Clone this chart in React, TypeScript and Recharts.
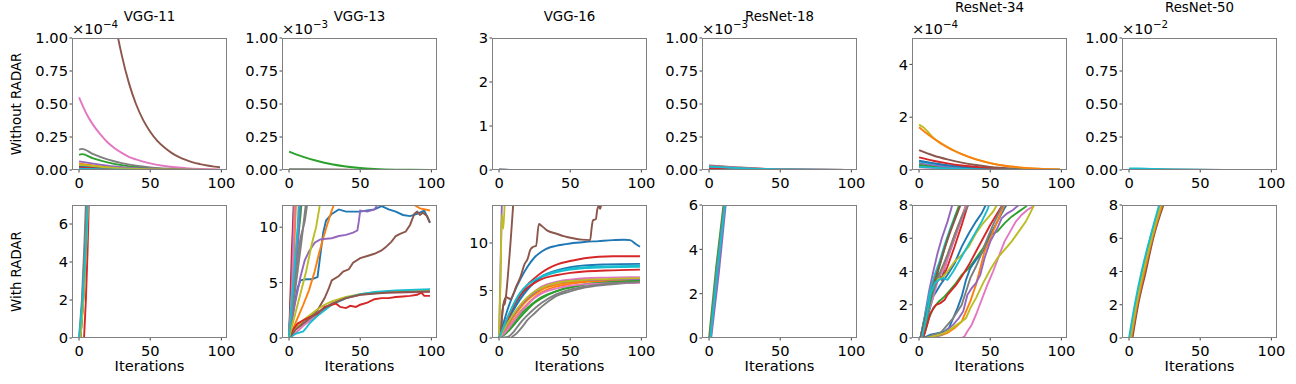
import React from 'react';
import { LineChart, Line, XAxis, YAxis } from 'recharts';

type Pt = [number, number];
type Series = [number, Pt[]]; // [colour index, points (iteration, value)]

const COLORS = ['#1f77b4', '#ff7f0e', '#2ca02c', '#d62728', '#9467bd', '#8c564b', '#e377c2', '#7f7f7f', '#bcbd22', '#17becf'];
const MODELS = ['VGG-11', 'VGG-13', 'VGG-16', 'ResNet-18', 'ResNet-34', 'ResNet-50'];
const ROW_LABELS = ['Without RADAR', 'With RADAR'];
const X_LABEL = 'Iterations';
const X_TICKS = [0, 50, 100];
const TOP_EXPONENTS = ['−4', '−3', '', '−3', '−4', '−2'];
const TOP_YMAX = [1, 1, 3, 1, 5, 1];
const TOP_YTICKS = [
  [0, 0.25, 0.5, 0.75, 1],
  [0, 0.25, 0.5, 0.75, 1],
  [0, 1, 2, 3],
  [0, 0.25, 0.5, 0.75, 1],
  [0, 2, 4],
  [0, 0.25, 0.5, 0.75, 1],
];
const BOTTOM_YMAX = [7, 12, 14, 6, 8, 8];
const BOTTOM_YTICKS = [
  [0, 2, 4, 6],
  [0, 5, 10],
  [0, 5, 10],
  [0, 2, 4, 6],
  [0, 2, 4, 6, 8],
  [0, 2, 4, 6, 8],
];

// ---------- Without RADAR (values in units of the axis offset) ----------
const VGG11_WITHOUT: Series[] = [
  [0, [[0, 0.03], [10, 0.02], [25, 0.01], [50, 0.003], [99, 0]]],
  [1, [[0, 0.05], [10, 0.035], [25, 0.018], [50, 0.006], [99, 0.001]]],
  [2, [[0, 0.115], [2, 0.12], [10, 0.088], [20, 0.058], [30, 0.037], [40, 0.023], [50, 0.014], [70, 0.005], [99, 0.001]]],
  [3, [[0, 0.02], [15, 0.01], [40, 0.003], [99, 0]]],
  [4, [[0, 0.065], [10, 0.048], [25, 0.026], [50, 0.008], [99, 0.001]]],
  [5, [[0, 4.5], [5, 3.4], [10, 2.6], [15, 2.0], [20, 1.5], [25, 1.14], [30, 0.87], [35, 0.66], [40, 0.5], [45, 0.38], [50, 0.29], [55, 0.22], [60, 0.17], [65, 0.13], [70, 0.1], [75, 0.077], [80, 0.058], [85, 0.045], [90, 0.034], [95, 0.026], [99, 0.021]]],
  [6, [[0, 0.55], [5, 0.43], [10, 0.34], [15, 0.27], [20, 0.21], [25, 0.165], [30, 0.13], [35, 0.1], [40, 0.08], [45, 0.063], [50, 0.05], [60, 0.03], [75, 0.014], [99, 0.004]]],
  [7, [[0, 0.155], [2, 0.16], [10, 0.12], [20, 0.08], [30, 0.052], [40, 0.033], [50, 0.02], [70, 0.007], [99, 0.001]]],
  [8, [[0, 0.04], [10, 0.03], [25, 0.015], [50, 0.005], [99, 0]]],
  [9, [[0, 0.01], [20, 0.005], [50, 0.001], [99, 0]]],
];
const VGG13_WITHOUT: Series[] = [
  [0, [[0, 0.003], [50, 0.001], [99, 0]]],
  [1, [[0, 0.003], [50, 0.001], [99, 0]]],
  [2, [[0, 0.14], [10, 0.1], [20, 0.068], [30, 0.044], [40, 0.027], [50, 0.015], [60, 0.008], [75, 0.003], [99, 0.001]]],
  [3, [[0, 0.003], [50, 0.001], [99, 0]]],
  [4, [[0, 0.003], [50, 0.001], [99, 0]]],
  [5, [[0, 0.003], [50, 0.001], [99, 0]]],
  [6, [[0, 0.003], [50, 0.001], [99, 0]]],
  [7, [[0, 0.003], [50, 0.001], [99, 0]]],
  [8, [[0, 0.003], [50, 0.001], [99, 0]]],
  [9, [[0, 0.002], [50, 0.001], [99, 0]]],
];
const VGG16_WITHOUT: Series[] = [
  [0, [[0, 0.004], [99, 0.002]]],
  [3, [[0, 0.004], [99, 0.002]]],
  [5, [[0, 0.004], [99, 0.002]]],
  [9, [[0, 0.004], [99, 0.002]]],
];
const RESNET18_WITHOUT: Series[] = [
  [0, [[0, 0.02], [20, 0.011], [50, 0.003], [99, 0]]],
  [3, [[0, 0.015], [20, 0.008], [50, 0.002], [99, 0]]],
  [5, [[0, 0.035], [20, 0.02], [50, 0.005], [99, 0.001]]],
  [6, [[0, 0.03], [20, 0.017], [50, 0.004], [99, 0.001]]],
  [7, [[0, 0.028], [20, 0.015], [50, 0.004], [99, 0]]],
  [9, [[0, 0.025], [25, 0.012], [50, 0.004], [99, 0]]],
];
const RESNET34_WITHOUT: Series[] = [
  [6, [[0, 0.1], [20, 0.05], [50, 0.01], [99, 0]]],
  [7, [[0, 0.15], [20, 0.07], [50, 0.02], [99, 0]]],
  [2, [[0, 0.2], [15, 0.12], [30, 0.06], [60, 0.015], [99, 0]]],
  [4, [[0, 0.26], [15, 0.15], [30, 0.08], [60, 0.02], [99, 0]]],
  [9, [[0, 0.32], [10, 0.24], [25, 0.14], [50, 0.045], [99, 0.003]]],
  [0, [[0, 0.35], [10, 0.26], [20, 0.18], [35, 0.1], [50, 0.05], [99, 0.003]]],
  [3, [[0, 0.48], [10, 0.35], [20, 0.25], [30, 0.17], [50, 0.08], [70, 0.03], [99, 0.005]]],
  [5, [[0, 0.75], [10, 0.55], [20, 0.4], [30, 0.28], [40, 0.19], [50, 0.12], [70, 0.05], [99, 0.01]]],
  [8, [[0, 1.72], [3, 1.62], [10, 1.22], [20, 0.87], [30, 0.6], [50, 0.26], [70, 0.1], [99, 0.02]]],
  [1, [[0, 1.62], [5, 1.4], [10, 1.2], [15, 1.02], [20, 0.86], [25, 0.72], [30, 0.6], [40, 0.4], [50, 0.26], [60, 0.16], [70, 0.1], [80, 0.06], [90, 0.035], [99, 0.02]]],
  [9, [[0, 0.12], [20, 0.06], [50, 0.015], [99, 0]]],
];
const RESNET50_WITHOUT: Series[] = [
  [0, [[0, 0.005], [30, 0.002], [99, 0]]],
  [5, [[0, 0.006], [30, 0.002], [99, 0]]],
  [9, [[0, 0.012], [12, 0.01], [30, 0.004], [60, 0.001], [99, 0]]],
];

// ---------- With RADAR ----------
const VGG11_WITH: Series[] = [
  [0, [[0.5, 0], [2.5, 2], [4.5, 4.8], [6, 7.5]]],
  [1, [[1, 0], [3, 2], [5, 4.8], [6.5, 7.5]]],
  [2, [[1, 0], [3, 2.1], [4.8, 5], [6, 7.5]]],
  [3, [[3.5, 0], [4.8, 2], [6, 4.6], [7, 7.5]]],
  [4, [[0.5, 0], [2.3, 2], [4.2, 5], [5.5, 7.5]]],
  [5, [[1, 0], [3, 2.2], [4.8, 5], [6, 7.5]]],
  [6, [[0.5, 0], [2.8, 2], [5, 5], [6.5, 7.5]]],
  [7, [[0, 0], [2, 2], [3.8, 5], [5, 7.5]]],
  [8, [[1, 0], [3, 2], [5.2, 5], [6.5, 7.5]]],
  [9, [[0, 0], [2.5, 2], [4.8, 4.8], [6.5, 7.5]]],
];
const VGG13_WITH: Series[] = [
  [0, [[0, 0], [3, 2.5], [6, 4.5], [8, 5.2], [12, 5.3], [16, 5.3], [20, 5.5], [22, 7.5], [24, 9.5], [26, 10.6], [30, 11.2], [35, 11.6], [40, 11.4], [50, 11.4], [55, 11.5], [60, 11.6], [65, 11.9], [70, 11.6], [75, 11.4], [80, 11.1], [85, 11.0], [90, 11.2], [95, 11.5], [99, 10.4]]],
  [1, [[0, 0], [5, 1.5], [10, 3], [14, 4.3], [18, 6], [21, 7.6], [24, 9], [27, 10.3], [30, 11.5], [32, 12.2], [50, 12.5], [80, 12.4], [88, 12], [92, 11.7], [99, 11.5]]],
  [2, [[0, 0], [2, 6], [3.5, 12.5]]],
  [3, [[0, 0], [2, 8], [3.5, 12.5]]],
  [4, [[0, 0], [4, 3], [8, 5.5], [11, 7], [14, 7.8], [18, 8.6], [22, 8.9], [30, 9.0], [35, 9.2], [40, 9.3], [45, 9.5], [48, 9.7], [49, 10.5], [50, 11.5], [55, 11.4], [60, 11.6], [63, 12.2]]],
  [5, [[0, 0], [5, 1], [10, 1.5], [15, 2], [20, 2.5], [25, 3.6], [28, 4.5], [30, 5.2], [35, 5.6], [38, 6], [42, 6.2], [45, 6.8], [50, 7.2], [55, 7.4], [60, 7.6], [65, 7.9], [68, 8.2], [72, 8.7], [75, 9.2], [78, 9.4], [82, 9.6], [85, 10.2], [88, 11.2], [90, 11.4], [92, 11.1], [94, 11.3], [97, 11], [99, 10.4]]],
  [6, [[0, 0], [5, 0.5], [10, 1.1], [15, 1.6], [20, 2.1], [25, 2.6], [30, 3.0], [40, 3.6], [50, 3.9], [60, 4.05], [75, 4.1], [99, 4.15]]],
  [7, [[0, 0], [3, 3], [6, 6], [9, 9], [12, 12.3]]],
  [8, [[0, 0], [5, 1], [10, 1.6], [15, 2.1], [20, 2.6], [25, 3.0], [30, 3.3], [40, 3.7], [50, 3.95], [60, 4.1], [75, 4.2], [99, 4.25]]],
  [9, [[0, 0], [5, 0.4], [10, 0.6], [12, 0.9], [15, 1.4], [20, 2.0], [25, 2.5], [30, 3.0], [40, 3.6], [50, 3.95], [60, 4.15], [75, 4.3], [99, 4.4]]],
  [0, [[0, 0], [2, 5], [4, 12.5]]],
  [1, [[0, 0], [3, 6], [5, 12.5]]],
  [2, [[0, 0], [4, 6], [8, 11], [9, 12.5]]],
  [3, [[0, 0], [3, 0.8], [6, 1.3], [10, 1.6], [13, 1.8], [17, 2.0], [20, 2.2], [25, 2.8], [30, 3.0], [33, 3.1], [36, 2.8], [40, 2.7], [43, 2.9], [47, 2.8], [50, 3.0], [55, 3.2], [60, 3.5], [65, 3.6], [70, 3.6], [75, 3.7], [80, 3.75], [85, 3.8], [90, 3.9], [93, 4.1], [95, 3.8], [99, 3.8]]],
  [4, [[0, 0], [3, 4], [6, 8], [8, 12.5]]],
  [5, [[0, 0], [5, 0.8], [10, 1.3], [20, 2.3], [30, 3.1], [40, 3.6], [50, 3.9], [70, 4.1], [99, 4.2]]],
  [6, [[0, 0], [2, 4], [4, 12.5]]],
  [7, [[0, 0], [4, 5], [8, 9], [11, 10.5], [13, 12.3]]],
  [8, [[0, 0], [4, 2], [8, 4], [12, 6], [16, 8.5], [19, 10], [21, 11.5], [22, 12.3]]],
  [9, [[0, 0], [3, 5], [6, 10], [7, 12.5]]],
];
const VGG16_WITH: Series[] = [
  [0, [[0, 0], [3, 1.5], [6, 3], [10, 4.6], [15, 6.2], [20, 7.5], [25, 8.5], [30, 9.1], [35, 9.5], [40, 9.7], [50, 9.95], [60, 10.1], [70, 10.2], [80, 10.3], [88, 10.35], [92, 10.3], [96, 9.9], [99, 9.6]]],
  [1, [[0, 0], [5, 0.8], [10, 1.8], [15, 2.8], [20, 3.6], [25, 4.3], [30, 4.8], [40, 5.4], [50, 5.7], [60, 5.9], [75, 6.0], [99, 6.1]]],
  [2, [[0, 0], [5, 0.5], [10, 1.3], [15, 2.2], [20, 3.0], [25, 3.7], [30, 4.2], [40, 4.9], [50, 5.3], [60, 5.6], [75, 5.8], [99, 6.0]]],
  [3, [[0, 0], [3, 1], [7, 2.5], [10, 3.3], [15, 4.5], [20, 5.6], [25, 6.3], [30, 6.9], [35, 7.35], [40, 7.7], [50, 8.1], [60, 8.4], [70, 8.55], [80, 8.6], [99, 8.6]]],
  [4, [[0, 0], [1, 7], [2, 14.5]]],
  [5, [[1, 0], [3, 3.4], [4, 3.6], [7, 8], [10, 14.2]]],
  [6, [[0, 0], [5, 1], [10, 2.2], [15, 3.3], [20, 4.2], [25, 4.9], [30, 5.4], [40, 5.9], [50, 6.15], [60, 6.3], [75, 6.35], [99, 6.4]]],
  [7, [[0, 0], [8, 0], [10, 0.2], [13, 0.6], [17, 1.3], [20, 1.9], [25, 2.6], [30, 3.3], [35, 3.9], [40, 4.4], [50, 4.9], [60, 5.3], [75, 5.6], [99, 5.9]]],
  [8, [[0, 0], [1, 6], [2, 13], [3, 11.5], [4, 14.5]]],
  [9, [[0, 0], [5, 1.6], [10, 3], [15, 4.2], [20, 5.2], [25, 5.9], [30, 6.4], [40, 6.9], [50, 7.2], [60, 7.35], [75, 7.45], [99, 7.5]]],
  [0, [[0, 0], [5, 1.5], [10, 2.9], [15, 4.1], [20, 5.1], [25, 5.9], [30, 6.5], [40, 7.1], [50, 7.45], [60, 7.65], [75, 7.75], [99, 7.8]]],
  [1, [[0, 0], [5, 1.1], [10, 2.2], [15, 3.2], [20, 4.0], [25, 4.6], [30, 5.1], [40, 5.6], [50, 5.85], [60, 6.0], [99, 6.2]]],
  [2, [[0, 0], [5, 0.6], [10, 1.5], [15, 2.5], [20, 3.2], [25, 3.8], [30, 4.3], [40, 4.9], [50, 5.4], [60, 5.65], [75, 5.85], [99, 6.0]]],
  [3, [[0, 0], [5, 1.5], [10, 3.3], [15, 4.5], [20, 5.3], [25, 5.8], [30, 6.2], [40, 6.6], [50, 6.85], [60, 7.0], [75, 7.1], [99, 7.2]]],
  [4, [[0, 0], [5, 1.2], [10, 2.4], [15, 3.4], [20, 4.2], [25, 4.8], [30, 5.3], [40, 5.8], [50, 6.0], [60, 6.1], [99, 6.2]]],
  [5, [[1, 0], [2, 2], [3, 3.5], [5, 4.3], [8, 4.1], [10, 4.6], [12, 5.4], [15, 6.4], [18, 7.8], [20, 8.3], [22, 9.3], [24, 9.6], [26, 9.7], [28, 12.0], [30, 11.8], [34, 11.3], [40, 11.0], [46, 10.7], [52, 10.5], [58, 10.35], [64, 10.3], [65, 11.5], [66, 12.4], [68, 12.5], [69, 13.5], [70, 13.9], [71, 13.6], [72, 14.2], [73, 14.5]]],
  [6, [[0, 0], [5, 0.7], [10, 1.7], [15, 2.7], [20, 3.5], [25, 4.2], [30, 4.7], [40, 5.2], [50, 5.5], [60, 5.65], [75, 5.75], [99, 5.8]]],
  [7, [[0, 0], [6, 0.1], [10, 0.6], [15, 1.6], [20, 2.4], [25, 3.1], [30, 3.7], [40, 4.6], [50, 5.1], [60, 5.4], [75, 5.7], [99, 5.9]]],
  [8, [[0, 0], [5, 1.3], [10, 2.5], [15, 3.5], [20, 4.3], [25, 4.9], [30, 5.3], [40, 5.8], [50, 6.0], [75, 6.2], [99, 6.3]]],
  [9, [[0, 0], [5, 1.8], [10, 3.5], [15, 4.8], [20, 5.6], [25, 6.1], [30, 6.5], [40, 7.0], [50, 7.3], [60, 7.45], [99, 7.6]]],
];
const RESNET18_WITH: Series[] = [
  [0, [[0.5, 0], [6, 3.3], [11, 6.2]]],
  [1, [[1, 0], [6, 3.2], [11.5, 6.2]]],
  [2, [[0, 0], [5, 3.2], [10.5, 6.2]]],
  [3, [[0.5, 0], [6, 3.1], [11, 6.2]]],
  [5, [[1, 0], [6.5, 3.1], [11.5, 6.2]]],
  [7, [[0.5, 0], [5.5, 3.2], [11, 6.2]]],
  [4, [[1.5, 0], [7, 3], [12, 6.2]]],
  [9, [[1, 0], [6, 3.1], [11.5, 6.2]]],
];
const RESNET34_WITH: Series[] = [
  [0, [[1, 0], [5, 1], [10, 2.5], [15, 3.2], [20, 3.8], [25, 4.5], [30, 5.5], [35, 6.3], [40, 7.0], [44, 7.5], [48, 8.2]]],
  [1, [[1, 0], [5, 1.3], [10, 2.8], [15, 3.8], [20, 5], [25, 6.2], [30, 7.3], [34, 8.2]]],
  [2, [[2, 0], [4, 0.3], [7, 1.2], [10, 1.8], [14, 2.2], [18, 2.5], [22, 2.9], [26, 3.3], [30, 3.8], [35, 4.2], [40, 4.8], [45, 5.4], [50, 6.2], [55, 6.4], [60, 6.9], [65, 7.3], [70, 7.6], [75, 7.9], [78, 8.2]]],
  [3, [[1, 0], [5, 1.6], [10, 3.0], [13, 3.8], [16, 3.5], [20, 4.3], [25, 5.5], [30, 6.8], [35, 8.2]]],
  [4, [[1, 0], [4, 1.3], [7, 2.8], [10, 4.0], [13, 5.1], [16, 6.0], [20, 7.0], [24, 8.2]]],
  [5, [[1, 0], [5, 1.5], [10, 3.0], [13, 3.9], [16, 3.6], [20, 4.8], [25, 6.0], [30, 7.2], [34, 8.2]]],
  [6, [[2, 0], [5, 1.2], [10, 2.5], [14, 3.7], [18, 4.2], [22, 5.3], [26, 6.3], [30, 7.2], [34, 8.2]]],
  [7, [[1, 0], [5, 1.4], [10, 2.8], [15, 4.0], [20, 5.0], [25, 6.2], [30, 7.3], [36, 8.2]]],
  [8, [[2, 0], [5, 1.2], [8, 2.8], [12, 3.5], [16, 3.6], [20, 4.0], [25, 4.6], [30, 5.0], [35, 5.5], [40, 6.3], [45, 6.9], [48, 7.2], [52, 7.6], [56, 8.2]]],
  [9, [[1, 0], [4, 1.3], [8, 2.9], [11, 3.8], [14, 4.5], [18, 5.6], [22, 6.6], [26, 7.5], [30, 8.2]]],
  [0, [[3, 0], [8, 0.2], [14, 0.3], [18, 0.4], [21, 0.6], [24, 1.2], [27, 1.8], [30, 2.5], [33, 3.5], [36, 4.2], [40, 4.7], [45, 5.2], [50, 6.2], [55, 7.0], [60, 7.8], [63, 8.2]]],
  [1, [[5, 0], [10, 0.1], [15, 0.15], [20, 0.3], [25, 0.6], [30, 1.0], [33, 1.6], [36, 2.2], [40, 3.2], [43, 4.2], [46, 5.2], [50, 6.0], [55, 7.0], [58, 7.6], [61, 8.2]]],
  [2, [[2, 0], [6, 1.5], [10, 3], [15, 4.5], [20, 6], [25, 7.2], [29, 8.2]]],
  [3, [[3, 0], [8, 1.5], [12, 2.0], [15, 2.1], [18, 2.3], [20, 2.6], [23, 2.9], [26, 3.2], [30, 3.7], [35, 4.4], [40, 5.2], [45, 6.0], [50, 6.8], [55, 7.5], [60, 8.2]]],
  [4, [[8, 0], [12, 0.1], [16, 0.2], [20, 0.5], [24, 0.8], [28, 1.2], [31, 1.6], [34, 2.6], [37, 3.0], [40, 3.3], [43, 3.8], [46, 4.8], [50, 5.8], [55, 6.6], [58, 7.2], [62, 7.5], [66, 7.7], [70, 8.0], [72, 8.2]]],
  [5, [[1, 0], [6, 1.8], [10, 3.2], [14, 4.3], [18, 5.4], [22, 6.4], [26, 7.3], [30, 8.2]]],
  [6, [[0, 0], [10, 0], [20, 0], [30, 0], [32, 0.1], [34, 0.4], [37, 0.8], [40, 1.4], [44, 2.3], [48, 3.2], [52, 4.0], [56, 4.9], [60, 5.8], [64, 6.4], [68, 7.0], [72, 7.4], [76, 7.7], [80, 7.9], [82, 8.2]]],
  [7, [[5, 0], [10, 0.2], [15, 0.3], [18, 0.6], [21, 0.9], [24, 1.2], [27, 1.6], [30, 2.0], [33, 2.8], [36, 3.6], [40, 4.3], [44, 5.1], [48, 6.0], [52, 6.8], [56, 7.5], [60, 8.2]]],
  [8, [[5, 0], [10, 0.1], [15, 0.2], [20, 0.4], [25, 0.7], [30, 1.0], [33, 1.2], [36, 1.8], [40, 2.4], [45, 3.3], [50, 4.1], [55, 4.8], [60, 5.3], [65, 5.8], [70, 6.4], [75, 7.0], [78, 7.5], [82, 8.2]]],
  [9, [[2, 0], [5, 1.2], [8, 2.6], [11, 3.3], [14, 3.5], [17, 3.6], [20, 3.5], [24, 4.0], [28, 4.6], [32, 5.2], [36, 5.8], [40, 6.4], [44, 7.0], [48, 7.7], [50, 8.2]]],
];
const RESNET50_WITH: Series[] = [
  [0, [[0.5, 0], [4.5, 2], [9.5, 4], [15, 6], [22.5, 8.2]]],
  [3, [[2, 0], [6, 2], [11.3, 4], [16.7, 6], [24.5, 8.2]]],
  [5, [[2.4, 0], [6.4, 2], [11.8, 4], [17, 6], [25, 8.2]]],
  [1, [[1.5, 0], [5.6, 2], [10.8, 4], [16.3, 6], [24, 8.2]]],
  [8, [[1, 0], [5, 2], [10, 4], [15.8, 6], [23, 8.2]]],
  [9, [[0, 0], [4, 2], [8.8, 4], [14.7, 6], [21.8, 8.2]]],
];

const WITHOUT = [VGG11_WITHOUT, VGG13_WITHOUT, VGG16_WITHOUT, RESNET18_WITHOUT, RESNET34_WITHOUT, RESNET50_WITHOUT];
const WITH = [VGG11_WITH, VGG13_WITH, VGG16_WITH, RESNET18_WITH, RESNET34_WITH, RESNET50_WITH];
const WITH_CURVES = ['linear', 'linear', 'monotone', 'linear', 'linear', 'monotone'];

// ---------- layout ----------
const FONT = 'DejaVu Sans, sans-serif';
const PLOT_LEFTS = [72, 282, 492, 702, 912, 1122];
const PLOT_W = 155;
const ROW_TOPS = [38, 205];
const ROW_HEIGHTS = [132, 133];
const SPINE = '#808080';
const TITLE_BASELINES = [20.5, 20.5, 20.5, 20.5, 12, 12];

type PanelProps = {
  left: number;
  top: number;
  height: number;
  series: Series[];
  yMax: number;
  yTicks: number[];
  curve: any;
};

function Panel({ left, top, height, series, yMax, yTicks, curve }: PanelProps) {
  const decimals = yTicks.some((t) => t % 1 !== 0);
  const tickStyle = { fill: '#000', fontSize: 14.67, fontFamily: FONT };
  return (
    <div style={{ position: 'absolute', left: left - 70, top: top - 10 }}>
      <LineChart width={PLOT_W + 80} height={height + 40} margin={{ top: 10, right: 10, bottom: 0, left: 10 }}>
        <XAxis
          type="number"
          dataKey="x"
          domain={[-4.95, 103.95]}
          ticks={X_TICKS}
          interval={0}
          allowDataOverflow
          axisLine={false}
          tickLine={{ stroke: '#444' }}
          tickSize={2.5}
          tickMargin={5}
          height={30}
          tick={tickStyle}
        />
        <YAxis
          type="number"
          domain={[0, yMax]}
          ticks={yTicks}
          interval={0}
          allowDataOverflow
          axisLine={false}
          tickLine={{ stroke: '#444' }}
          tickSize={2.5}
          tickMargin={1.5}
          width={60}
          tick={tickStyle}
          tickFormatter={(v: number) => (decimals ? v.toFixed(2) : String(v))}
        />
        {series.map(([c, pts], i) => (
          <Line
            key={i}
            data={pts.map(([x, y]) => ({ x, y }))}
            dataKey="y"
            type={curve}
            stroke={COLORS[c]}
            strokeWidth={1.9}
            dot={false}
            activeDot={false}
            isAnimationActive={false}
          />
        ))}
      </LineChart>
    </div>
  );
}

export default function App() {
  return (
    <div style={{ position: 'absolute', left: 0, top: 0, width: 1296, height: 384, background: '#fff', overflow: 'hidden' }}>
      {MODELS.map((m, i) => (
        <React.Fragment key={m}>
          <Panel left={PLOT_LEFTS[i]} top={ROW_TOPS[0]} height={ROW_HEIGHTS[0]} series={WITHOUT[i]} yMax={TOP_YMAX[i]} yTicks={TOP_YTICKS[i]} curve="monotone" />
          <Panel left={PLOT_LEFTS[i]} top={ROW_TOPS[1]} height={ROW_HEIGHTS[1]} series={WITH[i]} yMax={BOTTOM_YMAX[i]} yTicks={BOTTOM_YTICKS[i]} curve={WITH_CURVES[i]} />
        </React.Fragment>
      ))}
      <svg width={1296} height={384} style={{ position: 'absolute', left: 0, top: 0, pointerEvents: 'none' }} fontFamily={FONT}>
        {MODELS.map((m, i) => (
          <g key={m}>
            {ROW_TOPS.map((t, r) => (
              <rect key={r} x={PLOT_LEFTS[i] + 0.5} y={t + 0.5} width={PLOT_W - 1} height={ROW_HEIGHTS[r] - 1} fill="none" stroke={SPINE} strokeWidth={1} />
            ))}
            <text x={PLOT_LEFTS[i] + PLOT_W / 2} y={TITLE_BASELINES[i]} fontSize={13.33} textAnchor="middle" fill="#000">{m}</text>
            {TOP_EXPONENTS[i] && (
              <text x={PLOT_LEFTS[i]} y={34} fontSize={14.67} fill="#000">
                ×10<tspan dy={-6} fontSize={10.3}>{TOP_EXPONENTS[i]}</tspan>
              </text>
            )}
            <text x={PLOT_LEFTS[i] + PLOT_W / 2} y={371} fontSize={14.67} textAnchor="middle" fill="#000">{X_LABEL}</text>
          </g>
        ))}
        {ROW_LABELS.map((l, r) => {
          const cy = ROW_TOPS[r] + ROW_HEIGHTS[r] / 2;
          return (
            <text key={l} x={20.5} y={cy} fontSize={13.33} textAnchor="middle" fill="#000" transform={`rotate(-90 20.5 ${cy})`}>{l}</text>
          );
        })}
      </svg>
    </div>
  );
}
